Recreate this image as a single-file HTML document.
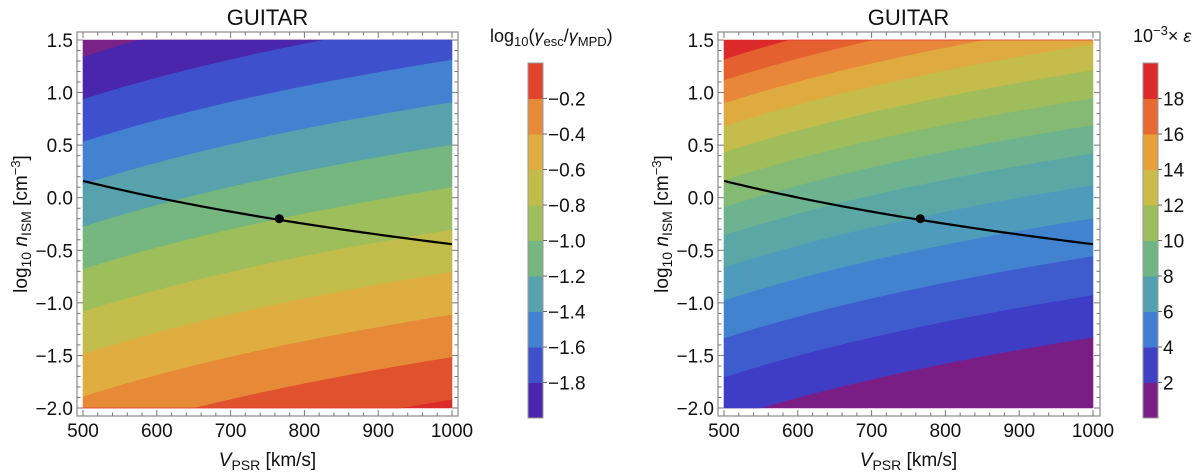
<!DOCTYPE html>
<html><head><meta charset="utf-8"><style>
html,body{margin:0;padding:0;background:#fff;}
svg{display:block;font-family:"Liberation Sans",sans-serif;}
</style></head><body>
<svg id="fig" width="1200" height="475" viewBox="0 0 1200 475" xmlns="http://www.w3.org/2000/svg"></svg>
<script>
// ---- data ----
const xTicks=[500,600,700,800,900,1000];
const yTicks=[-2.0,-1.5,-1.0,-0.5,0.0,0.5,1.0,1.5];
// left: log10(gamma_esc/gamma_MPD) = A + B*log10(V) - S*log10(n)
const leftA=-4.798, leftB=1.282, leftS=0.495;
const leftLevels=[-2.0,-1.8,-1.6,-1.4,-1.2,-1.0,-0.8,-0.6,-0.4,-0.2,0.0];
const leftColors=["#7a2386","#4a26ad","#3e50cb","#4382d0","#57a2ac","#76b77f","#9dbe5a","#c2bd4a","#dfad40","#e68a38","#e0522d","#dc2b2b"];
const leftCbTicks=[-1.8,-1.6,-1.4,-1.2,-1.0,-0.8,-0.6,-0.4,-0.2];
const leftCbColors=["#4a26ad","#3e50cb","#4382d0","#57a2ac","#76b77f","#9dbe5a","#c2bd4a","#dfad40","#e68a38","#e0452b"];
// right: epsilon level curves: log10 n at V=500 for each epsilon level, shifting with V
const rightLevels=[2,3.5,5,6.5,8,9.5,11,12.5,14,15.5,17,18.5,20];
const rightLogN500=[-2.105,-1.705,-1.334,-0.973,-0.659,-0.355,-0.088,0.168,0.435,0.682,0.901,1.120,1.319];
const rightShift=2.59;
const rightColors=["#7a1e86","#3f3dc6","#3f5ccf","#4283d0","#4f9bbb","#5aa7a6","#6db390","#84ba73","#9fbd5a","#c4bc4b","#dfab40","#e8863a","#e4602f","#dc2a2a"];
const rightCbTicks=[2,4,6,8,10,12,14,16,18];
const rightCbColors=["#7b1f87","#4040c4","#427dd2","#53a0b0","#72b585","#9bbd5c","#cbbc48","#e8a03d","#e86a33","#dc2a2a"];
// black curve n ∝ V^-2 and marked point
const lineV=[500,1000];
const lineLogN0=0.16, lineSlope=-2.0;
const pointV=[766], pointLogN=[-0.2];

const NS="http://www.w3.org/2000/svg";
const svg=document.getElementById('fig');
function mk(tag,attrs,parent){const e=document.createElementNS(NS,tag);for(const k in attrs)e.setAttribute(k,attrs[k]);(parent||svg).appendChild(e);return e;}

function makePlot(ox,name){
  const p={x0:ox,x1:ox+369,y0:40,y1:408};
  p.sx=v=>p.x0+(v-500)/500*(p.x1-p.x0);
  p.sy=y=>p.y0+(1.5-y)/3.5*(p.y1-p.y0);
  p.g=mk('g',{});
  
  
  return p;
}
function clampY(y){return Math.max(-2,Math.min(1.5,y));}
function bandPoly(p,upper,lower,color,name){
  const N=80;let pts=[];
  for(let i=0;i<=N;i++){const v=500+500*i/N;const y=upper?clampY(upper(v)):1.5;pts.push(p.sx(v).toFixed(2)+','+p.sy(y).toFixed(2));}
  for(let i=N;i>=0;i--){const v=500+500*i/N;const y=lower?clampY(lower(v)):-2;pts.push(p.sx(v).toFixed(2)+','+p.sy(y).toFixed(2));}
  const e=mk('polygon',{points:pts.join(' '),fill:color,stroke:color,'stroke-width':0.6},p.g);
  
  
}
function frame(p,fx0,fx1){
  const fy0=32,fy1=416;
  const r=mk('rect',{x:fx0,y:fy0,width:fx1-fx0,height:fy1-fy0,fill:'none',stroke:'#8a8a8a','stroke-width':1.2},p.g);
  
  
  for(let v=500;v<=1000;v+=20){const x=p.sx(v);const maj=(v%100===0)?6:3.5;
    mk('line',{x1:x,y1:fy1,x2:x,y2:fy1-maj,stroke:'#777','stroke-width':1},p.g);
    mk('line',{x1:x,y1:fy0,x2:x,y2:fy0+maj,stroke:'#777','stroke-width':1},p.g);}
  for(let k=-20;k<=15;k++){const y=p.sy(k/10);const maj=(k%5===0)?6:3.5;
    mk('line',{x1:fx0,y1:y,x2:fx0+maj,y2:y,stroke:'#777','stroke-width':1},p.g);
    mk('line',{x1:fx1,y1:y,x2:fx1-maj,y2:y,stroke:'#777','stroke-width':1},p.g);}
  xTicks.forEach(v=>{const t=mk('text',{x:p.sx(v),y:437,'font-size':19,'text-anchor':'middle',fill:'#111'},p.g);t.textContent=v;
    });
  yTicks.forEach(y=>{const t=mk('text',{x:fx0-4,y:p.sy(y)+7,'font-size':19,'text-anchor':'end',fill:'#111'},p.g);t.textContent=(y<0?'\u2212':'')+Math.abs(y).toFixed(1);
    });
  const cx=(p.x0+p.x1)/2;
  const tt=mk('text',{x:cx,y:25,'font-size':22,'text-anchor':'middle',fill:'#111'},p.g);tt.textContent='GUITAR';
  
  const xl=mk('text',{x:cx,y:466,'font-size':19,'text-anchor':'middle',fill:'#111'},p.g);
  xl.innerHTML='<tspan font-style="italic">V</tspan><tspan font-size="14" dy="4">PSR</tspan><tspan dy="-4"> [km/s]</tspan>';
  
  const yl=mk('text',{x:0,y:0,'font-size':19,'text-anchor':'middle',fill:'#111',transform:`translate(${fx0-50},224) rotate(-90)`},p.g);
  yl.innerHTML='log<tspan font-size="14" dy="4">10</tspan><tspan dy="-4" font-style="italic"> n</tspan><tspan font-size="14" dy="4">ISM</tspan><tspan dy="-4"> [cm</tspan><tspan font-size="13" dy="-7">\u22123</tspan><tspan dy="7">]</tspan>';
  
}
function curveAndPoint(p){
  const N=60;let d='';
  for(let i=0;i<=N;i++){const v=lineV[0]+(lineV[1]-lineV[0])*i/N;const y=lineLogN0+lineSlope*Math.log10(v/500);d+=(i?'L':'M')+p.sx(v).toFixed(2)+','+p.sy(y).toFixed(2);}
  const l=mk('path',{d:d,fill:'none',stroke:'#000','stroke-width':2.2},p.g);
  
  pointV.forEach((v,i)=>{const c=mk('circle',{cx:p.sx(v),cy:p.sy(pointLogN[i]),r:4.5,fill:'#000'},p.g);
    });
}
function colorbar(x,ticks,cols,labels,name,titleHTML,tx){
  const top=63,bot=418,h=(bot-top)/cols.length;
  const g=mk('g',{});
  cols.forEach((c,i)=>{const r=mk('rect',{x:x,y:bot-(i+1)*h,width:15,height:h+0.5,fill:c},g);
    });
  mk('rect',{x:x,y:top,width:15,height:bot-top,fill:'none',stroke:'#999','stroke-width':1},g);
  ticks.forEach((t,i)=>{const y=bot-(i+1)*h;mk('line',{x1:x+15,y1:y,x2:x+19,y2:y,stroke:'#666'},g);
    const tl=mk('text',{x:x+20,y:y+7,'font-size':19,fill:'#111'},g);tl.textContent=labels(t);
    });
  const tt=mk('text',{x:tx,y:42,'font-size':18,fill:'#111'},g);tt.innerHTML=titleHTML;
  
}

// left plot
const L=makePlot(83,'left-contour-plot');
const yLeft=lv=>v=>(leftA+leftB*Math.log10(v)-lv)/leftS;
for(let i=0;i<=leftLevels.length;i++){
  const upper=i===0?null:yLeft(leftLevels[i-1]);
  const lower=i===leftLevels.length?null:yLeft(leftLevels[i]);
  bandPoly(L,upper,lower,leftColors[i],'contour-band');
}
frame(L,77,458);curveAndPoint(L);
colorbar(528,leftCbTicks,leftCbColors,t=>'\u2212'+Math.abs(t).toFixed(1),'left-colorbar',
 'log<tspan font-size="13" dy="4">10</tspan><tspan dy="-4">(</tspan><tspan font-style="italic">γ</tspan><tspan font-size="13" dy="4">esc</tspan><tspan dy="-4">/</tspan><tspan font-style="italic">γ</tspan><tspan font-size="13" dy="4">MPD</tspan><tspan dy="-4">)</tspan>',490);

// right plot
const R=makePlot(724,'right-contour-plot');
const yRight=k=>v=>rightLogN500[k]+rightShift*Math.log10(v/500);
const nr=rightLevels.length;
for(let i=0;i<=nr;i++){
  const upper=i===nr?null:yRight(i);
  const lower=i===0?null:yRight(i-1);
  bandPoly(R,upper,lower,rightColors[i],'contour-band');
}
frame(R,718,1100);curveAndPoint(R);
colorbar(1143,rightCbTicks,rightCbColors,t=>String(t),'right-colorbar',
 '10<tspan font-size="13" dy="-7">\u22123</tspan><tspan dy="7">× </tspan><tspan font-style="italic">ε</tspan>',1133);
</script>
</body></html>
